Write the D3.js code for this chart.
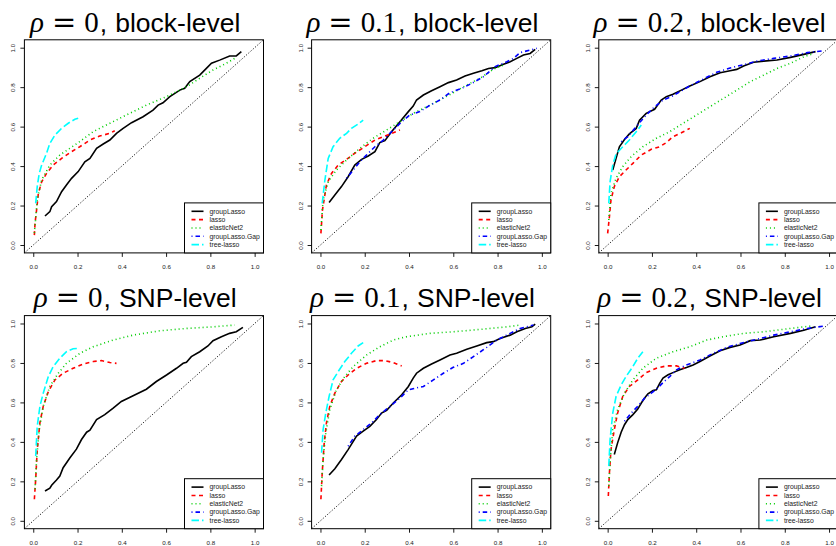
<!DOCTYPE html>
<html>
<head>
<meta charset="utf-8">
<script src="https://cdn.jsdelivr.net/npm/d3@7"></script>
<style>
  body { margin: 0; background: #fff; }
  svg { display: block; }
</style>
</head>
<body>
<svg></svg>
<script>
const WIDTH = 836;
const HEIGHT = 546;

// methods in legend order
const methods = ["groupLasso", "lasso", "elasticNet2", "groupLasso.Gap", "tree-lasso"];
const colors = ["#000000", "#ff0000", "#00cd00", "#0000ff", "#00ffff"];
const dashes = ["none", "4,3.5", "1,3", "1,3,4.5,3", "7.5,3"];
const ticks = [0, 0.2, 0.4, 0.6, 0.8, 1.0];
const rhos = ["0", "0.1", "0.2"];
const levels = ["block-level", "SNP-level"];

// [FPR, TPR] pairs
// block-level, rho = 0
const b0_groupLasso = [[0.053,0.147],[0.075,0.169],[0.083,0.194],[0.105,0.22],[0.128,0.27],[0.15,0.304],[0.173,0.338],[0.203,0.372],[0.233,0.422],[0.256,0.439],[0.286,0.49],[0.316,0.512],[0.346,0.532],[0.376,0.566],[0.406,0.591],[0.444,0.62],[0.496,0.65],[0.541,0.684],[0.564,0.709],[0.586,0.721],[0.617,0.752],[0.662,0.785],[0.684,0.794],[0.707,0.828],[0.752,0.861],[0.782,0.895],[0.805,0.921],[0.842,0.937],[0.887,0.958],[0.917,0.958],[0.94,0.98]];
const b0_lasso = [[0.005,0.05],[0.008,0.11],[0.015,0.177],[0.023,0.262],[0.038,0.32],[0.06,0.363],[0.09,0.405],[0.128,0.439],[0.173,0.473],[0.21,0.498],[0.256,0.532],[0.3,0.552],[0.346,0.566],[0.368,0.579]];
const b0_elasticNet2 = [[0.005,0.06],[0.018,0.228],[0.038,0.33],[0.075,0.405],[0.12,0.456],[0.165,0.49],[0.21,0.524],[0.27,0.574],[0.33,0.608],[0.421,0.659],[0.511,0.709],[0.602,0.752],[0.692,0.802],[0.752,0.845],[0.812,0.887],[0.872,0.921],[0.91,0.946]];
const b0_gap = [];
const b0_treeLasso = [[0.011,0.211],[0.018,0.296],[0.027,0.363],[0.038,0.405],[0.06,0.465],[0.075,0.515],[0.098,0.557],[0.128,0.591],[0.158,0.617],[0.188,0.637],[0.203,0.642]];

// block-level, rho = 0.1
const b1_groupLasso = [[0.039,0.216],[0.065,0.253],[0.095,0.296],[0.125,0.346],[0.155,0.405],[0.186,0.434],[0.216,0.451],[0.246,0.473],[0.268,0.519],[0.291,0.529],[0.321,0.574],[0.359,0.625],[0.397,0.676],[0.419,0.704],[0.434,0.735],[0.465,0.76],[0.502,0.782],[0.54,0.802],[0.578,0.823],[0.615,0.836],[0.653,0.856],[0.691,0.87],[0.729,0.883],[0.759,0.895],[0.789,0.899],[0.827,0.916],[0.857,0.929],[0.887,0.946],[0.917,0.963],[0.947,0.971],[0.97,0.992]];
const b1_lasso = [[0.002,0.059],[0.009,0.177],[0.027,0.304],[0.05,0.363],[0.08,0.405],[0.118,0.434],[0.155,0.465],[0.2,0.498],[0.246,0.532],[0.291,0.552],[0.329,0.569],[0.359,0.583]];
const b1_elasticNet2 = [[0.002,0.076],[0.012,0.228],[0.035,0.321],[0.072,0.38],[0.118,0.431],[0.178,0.49],[0.238,0.541],[0.299,0.583],[0.359,0.625],[0.419,0.667],[0.48,0.701],[0.54,0.735],[0.6,0.772],[0.661,0.811],[0.721,0.845],[0.781,0.891],[0.827,0.912]];
const b1_gap = [[0.118,0.338],[0.148,0.38],[0.178,0.422],[0.208,0.456],[0.246,0.498],[0.284,0.532],[0.321,0.574],[0.367,0.625],[0.404,0.659],[0.449,0.676],[0.495,0.709],[0.54,0.735],[0.585,0.772],[0.638,0.794],[0.683,0.819],[0.736,0.853],[0.789,0.904],[0.842,0.929],[0.872,0.946],[0.902,0.975],[0.947,0.988],[0.977,0.997]];
const b1_treeLasso = [[0.008,0.211],[0.02,0.329],[0.035,0.439],[0.057,0.498],[0.087,0.541],[0.118,0.566],[0.14,0.591],[0.17,0.613],[0.193,0.633]];

// block-level, rho = 0.2
const b2_groupLasso = [[0.023,0.38],[0.038,0.439],[0.053,0.498],[0.076,0.535],[0.098,0.563],[0.129,0.591],[0.144,0.633],[0.174,0.667],[0.212,0.688],[0.242,0.735],[0.265,0.752],[0.295,0.764],[0.333,0.785],[0.371,0.806],[0.417,0.828],[0.462,0.853],[0.508,0.873],[0.553,0.883],[0.583,0.89],[0.614,0.907],[0.659,0.926],[0.705,0.932],[0.765,0.938],[0.826,0.951],[0.886,0.966],[0.939,0.98]];
const b2_lasso = [[0,0.059],[0.008,0.144],[0.015,0.228],[0.03,0.296],[0.053,0.346],[0.083,0.38],[0.114,0.414],[0.152,0.456],[0.197,0.485],[0.235,0.498],[0.265,0.519],[0.295,0.549],[0.333,0.569],[0.371,0.591]];
const b2_elasticNet2 = [[0.005,0.127],[0.015,0.262],[0.038,0.338],[0.068,0.397],[0.106,0.448],[0.159,0.498],[0.22,0.541],[0.28,0.574],[0.341,0.617],[0.402,0.659],[0.462,0.701],[0.523,0.743],[0.583,0.785],[0.644,0.828],[0.705,0.861],[0.765,0.895],[0.826,0.921],[0.886,0.954],[0.932,0.971]];
const b2_gap = [[0.061,0.524],[0.091,0.549],[0.129,0.6],[0.167,0.65],[0.205,0.693],[0.25,0.735],[0.288,0.752],[0.326,0.777],[0.371,0.806],[0.432,0.841],[0.492,0.875],[0.553,0.897],[0.614,0.914],[0.674,0.932],[0.75,0.946],[0.826,0.958],[0.902,0.975],[0.977,0.985]];
const b2_treeLasso = [[0.005,0.211],[0.011,0.321],[0.023,0.405],[0.038,0.461],[0.068,0.498],[0.098,0.532],[0.129,0.574],[0.152,0.608]];

// SNP-level, rho = 0
const s0_groupLasso = [[0.053,0.151],[0.075,0.165],[0.083,0.18],[0.105,0.207],[0.12,0.227],[0.135,0.269],[0.165,0.318],[0.195,0.363],[0.218,0.412],[0.241,0.449],[0.256,0.459],[0.286,0.513],[0.323,0.538],[0.361,0.571],[0.398,0.605],[0.451,0.634],[0.511,0.667],[0.556,0.706],[0.602,0.739],[0.647,0.773],[0.677,0.798],[0.692,0.803],[0.714,0.832],[0.752,0.857],[0.789,0.886],[0.812,0.913],[0.85,0.933],[0.887,0.95],[0.917,0.958],[0.947,0.98]];
const s0_lasso = [[0.005,0.109],[0.011,0.21],[0.018,0.361],[0.03,0.496],[0.045,0.58],[0.068,0.655],[0.098,0.714],[0.135,0.748],[0.18,0.773],[0.226,0.795],[0.271,0.807],[0.308,0.812],[0.346,0.802],[0.376,0.798]];
const s0_elasticNet2 = [[0.008,0.16],[0.015,0.311],[0.027,0.462],[0.045,0.58],[0.075,0.681],[0.113,0.748],[0.15,0.798],[0.211,0.849],[0.271,0.882],[0.361,0.916],[0.451,0.941],[0.571,0.963],[0.692,0.975],[0.812,0.983],[0.91,0.992]];
const s0_gap = [];
const s0_treeLasso = [[0.011,0.328],[0.018,0.479],[0.03,0.58],[0.045,0.647],[0.068,0.731],[0.09,0.782],[0.12,0.824],[0.15,0.857],[0.18,0.872],[0.203,0.874]];

// SNP-level, rho = 0.1
const s1_groupLasso = [[0.039,0.232],[0.065,0.264],[0.095,0.311],[0.125,0.361],[0.163,0.429],[0.193,0.454],[0.223,0.479],[0.253,0.513],[0.276,0.546],[0.299,0.56],[0.329,0.597],[0.367,0.639],[0.397,0.681],[0.419,0.723],[0.434,0.748],[0.465,0.773],[0.502,0.795],[0.54,0.815],[0.585,0.84],[0.615,0.849],[0.661,0.869],[0.706,0.886],[0.751,0.903],[0.781,0.908],[0.811,0.924],[0.857,0.941],[0.887,0.958],[0.925,0.975],[0.955,0.983],[0.97,0.997]];
const s1_lasso = [[0.002,0.109],[0.008,0.244],[0.017,0.395],[0.027,0.496],[0.042,0.58],[0.065,0.647],[0.095,0.706],[0.125,0.739],[0.163,0.773],[0.208,0.798],[0.253,0.812],[0.291,0.812],[0.329,0.802],[0.367,0.785]];
const s1_elasticNet2 = [[0.005,0.176],[0.012,0.311],[0.024,0.445],[0.042,0.563],[0.072,0.664],[0.11,0.731],[0.148,0.782],[0.208,0.84],[0.268,0.882],[0.329,0.916],[0.389,0.933],[0.495,0.95],[0.6,0.958],[0.721,0.97],[0.842,0.983],[0.902,0.992]];
const s1_gap = [[0.125,0.378],[0.155,0.429],[0.193,0.462],[0.231,0.496],[0.268,0.538],[0.314,0.58],[0.359,0.622],[0.397,0.664],[0.427,0.672],[0.465,0.681],[0.51,0.714],[0.555,0.748],[0.6,0.778],[0.646,0.798],[0.691,0.832],[0.751,0.879],[0.796,0.916],[0.857,0.95],[0.902,0.975],[0.962,0.992]];
const s1_treeLasso = [[0.005,0.345],[0.012,0.462],[0.024,0.546],[0.039,0.63],[0.057,0.714],[0.08,0.756],[0.11,0.807],[0.14,0.849],[0.17,0.886],[0.193,0.903]];

// SNP-level, rho = 0.2
const s2_groupLasso = [[0.03,0.336],[0.045,0.395],[0.061,0.449],[0.076,0.487],[0.091,0.513],[0.114,0.538],[0.136,0.566],[0.152,0.597],[0.167,0.622],[0.182,0.644],[0.205,0.66],[0.22,0.664],[0.235,0.697],[0.25,0.723],[0.273,0.74],[0.295,0.751],[0.326,0.765],[0.356,0.777],[0.386,0.79],[0.417,0.807],[0.462,0.835],[0.508,0.862],[0.553,0.879],[0.598,0.891],[0.644,0.913],[0.689,0.916],[0.75,0.933],[0.826,0.95],[0.886,0.966],[0.939,0.983]];
const s2_lasso = [[0.003,0.126],[0.008,0.244],[0.015,0.361],[0.03,0.462],[0.045,0.546],[0.068,0.63],[0.098,0.681],[0.136,0.714],[0.174,0.751],[0.22,0.773],[0.265,0.785],[0.311,0.785],[0.348,0.773]];
const s2_elasticNet2 = [[0.005,0.176],[0.012,0.311],[0.023,0.462],[0.045,0.563],[0.076,0.647],[0.114,0.714],[0.159,0.773],[0.22,0.824],[0.295,0.857],[0.371,0.882],[0.447,0.916],[0.523,0.933],[0.614,0.95],[0.705,0.958],[0.826,0.975],[0.917,0.987]];
const s2_gap = [[0.076,0.504],[0.106,0.546],[0.136,0.58],[0.167,0.622],[0.197,0.647],[0.22,0.667],[0.25,0.7],[0.28,0.731],[0.311,0.765],[0.356,0.79],[0.417,0.815],[0.477,0.849],[0.538,0.879],[0.598,0.899],[0.674,0.92],[0.75,0.941],[0.826,0.958],[0.902,0.975],[0.977,0.987]];
const s2_treeLasso = [[0.005,0.277],[0.011,0.412],[0.023,0.546],[0.038,0.63],[0.061,0.689],[0.083,0.731],[0.114,0.782],[0.136,0.824],[0.159,0.857]];

// rows = level, columns = rho
const panels = [
    [
        [b0_groupLasso, b0_lasso, b0_elasticNet2, b0_gap, b0_treeLasso],
        [b1_groupLasso, b1_lasso, b1_elasticNet2, b1_gap, b1_treeLasso],
        [b2_groupLasso, b2_lasso, b2_elasticNet2, b2_gap, b2_treeLasso]
    ],
    [
        [s0_groupLasso, s0_lasso, s0_elasticNet2, s0_gap, s0_treeLasso],
        [s1_groupLasso, s1_lasso, s1_elasticNet2, s1_gap, s1_treeLasso],
        [s2_groupLasso, s2_lasso, s2_elasticNet2, s2_gap, s2_treeLasso]
    ]
];

// layout
const BOX_W = 239.1;
const BOX_H = 213.1;
const COL_X = [24.4, 311.6, 598.8];
const ROW_Y = [39.8, 315.6];

const SERIF = "'Liberation Serif', 'DejaVu Serif', serif";
const SANS = "'Liberation Sans', Arial, sans-serif";

let svg = d3.select("svg")
    .attr("width", WIDTH)
    .attr("height", HEIGHT)
    .style("font-family", SANS);

svg.append("rect")
    .attr("width", WIDTH)
    .attr("height", HEIGHT)
    .attr("fill", "#fff");

function drawTitle(g, cx, baseline, rho, level) {
    let title = g.append("text")
        .attr("x", cx)
        .attr("y", baseline)
        .attr("text-anchor", "middle")
        .style("fill", "#000");
    title.append("tspan")
        .style("font-family", SERIF)
        .style("font-style", "italic")
        .style("font-size", "29px")
        .text("ρ");
    title.append("tspan")
        .attr("dx", 8)
        .style("font-family", "'DejaVu Serif', serif")
        .style("font-weight", 300)
        .style("font-size", "29px")
        .text("=");
    title.append("tspan")
        .attr("dx", 8)
        .style("font-family", SERIF)
        .style("font-size", "29px")
        .text(rho);
    title.append("tspan")
        .attr("dx", 1)
        .style("font-family", SANS)
        .style("font-size", "26.5px")
        .text(",");
    title.append("tspan")
        .attr("dx", 8)
        .style("font-family", SANS)
        .style("font-size", "26.5px")
        .text(level);
}

function drawPanel(row, col) {
    const left = COL_X[col];
    const top = ROW_Y[row];
    const right = left + BOX_W;
    const bottom = top + BOX_H;

    const x = d3.scaleLinear().domain([-0.04, 1.04]).range([left, right]);
    const y = d3.scaleLinear().domain([-0.04, 1.04]).range([bottom, top]);

    let g = svg.append("g");

    drawTitle(g, (left + right) / 2 - 8.7, top - 8.3, rhos[col], levels[row]);

    // axes
    let xAxis = g.append("g")
        .attr("transform", `translate(0,${bottom})`)
        .call(d3.axisBottom(x).tickValues(ticks).tickFormat(d3.format(".1f")).tickSize(4));
    xAxis.select(".domain").remove();
    xAxis.selectAll("text").attr("dy", "0.35em").attr("y", 13.8)
        .style("font-size", "6.2px").style("fill", "#222");

    let yAxis = g.append("g")
        .attr("transform", `translate(${left},0)`)
        .call(d3.axisLeft(y).tickValues(ticks).tickFormat(d3.format(".1f")).tickSize(4));
    yAxis.select(".domain").remove();
    yAxis.selectAll("text")
        .attr("transform", "rotate(-90)")
        .attr("x", 0)
        .attr("y", -11.1)
        .attr("dy", "0.35em")
        .attr("text-anchor", "middle")
        .style("font-size", "6.2px")
        .style("fill", "#222");
    g.selectAll(".tick line").attr("stroke", "#000").attr("stroke-width", 0.9);

    // diagonal reference
    g.append("line")
        .attr("x1", x(-0.04)).attr("y1", y(-0.04))
        .attr("x2", x(1.04)).attr("y2", y(1.04))
        .attr("stroke", "#000")
        .attr("stroke-width", 0.9)
        .attr("stroke-dasharray", "1.2,1.8");

    // curves
    const line = d3.line()
        .x((d) => x(d[0]))
        .y((d) => y(d[1]));

    panels[row][col].forEach((data, i) => {
        if (data.length === 0) return;
        g.append("path")
            .attr("d", line(data))
            .attr("fill", "none")
            .attr("stroke", colors[i])
            .attr("stroke-width", 1.6)
            .attr("stroke-dasharray", dashes[i]);
    });

    // box
    g.append("rect")
        .attr("x", left).attr("y", top)
        .attr("width", BOX_W).attr("height", BOX_H)
        .attr("fill", "none")
        .attr("stroke", "#000")
        .attr("stroke-width", 1);

    // legend
    const LW = 79;
    const LH = 50;
    const lx = right - LW;
    const ly = bottom - LH;
    let legend = g.append("g");
    legend.append("rect")
        .attr("x", lx).attr("y", ly)
        .attr("width", LW).attr("height", LH)
        .attr("fill", "#fff")
        .attr("stroke", "#000")
        .attr("stroke-width", 1);
    methods.forEach((m, i) => {
        const yy = ly + 8.4 + i * 8.33;
        legend.append("line")
            .attr("x1", lx + 7).attr("x2", lx + 19)
            .attr("y1", yy).attr("y2", yy)
            .attr("stroke", colors[i])
            .attr("stroke-width", 1.6)
            .attr("stroke-dasharray", dashes[i]);
        legend.append("text")
            .attr("x", lx + 25)
            .attr("y", yy)
            .attr("dy", "0.35em")
            .style("font-size", "6.8px")
            .style("fill", "#222")
            .text(m);
    });
}

for (let r = 0; r < 2; r++) {
    for (let c = 0; c < 3; c++) {
        drawPanel(r, c);
    }
}
</script>
</body>
</html>
